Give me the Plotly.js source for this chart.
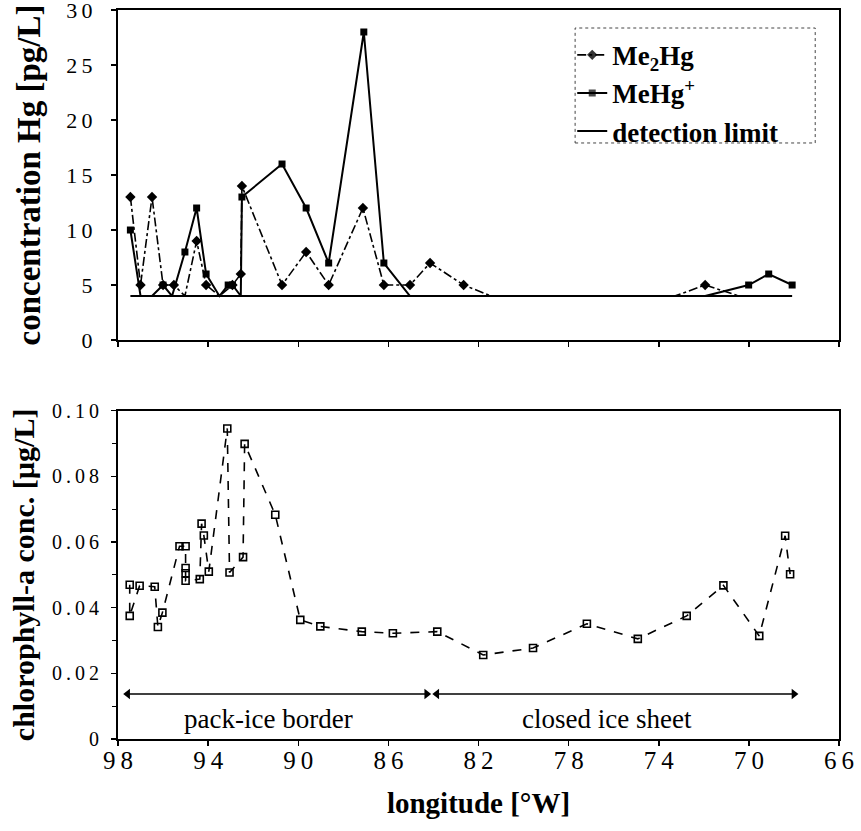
<!DOCTYPE html>
<html>
<head>
<meta charset="utf-8">
<script src="https://cdn.plot.ly/plotly-3.0.1.min.js"></script>
<style>html,body{margin:0;padding:0;background:#fff;}</style>
</head>
<body>
<div id="chart" style="width:861px;height:831px;"></div>
<script>
// ---- data: top panel (Hg species, pg/L) ----
const me2hgLon = [97.45, 97.0, 96.49, 96.0, 95.52, 95.03, 94.51, 94.09, 93.5, 92.92, 92.55, 92.50, 90.72, 89.65, 88.65, 87.13, 86.20, 85.04, 84.15, 82.66, 81.44, 73.29, 71.94, 70.44];
const me2hgVal = [13, 5, 13, 5, 5, 4, 9, 5, 4, 5, 6, 14, 5, 8, 5, 12, 5, 5, 7, 5, 4, 4, 5, 4];

const mehgLon = [97.45, 97.0, 96.49, 96.0, 95.6, 95.03, 94.51, 94.09, 93.5, 93.11, 92.92, 92.55, 92.50, 90.72, 89.65, 88.65, 87.09, 86.20, 85.04, 78.5, 71.94, 70.01, 69.12, 68.08];
const mehgVal = [10, 4, 4, 5, 4, 8, 12, 6, 4, 5, 5, 4, 13, 16, 12, 7, 28, 7, 4, null, 4, 5, 6, 5];

const detLimitLon = [97.45, 68.08];
const detLimitVal = [4, 4];

// ---- data: bottom panel (chlorophyll-a, µg/L) ----
const chlLon = [97.48, 97.48, 97.04, 96.37, 96.23, 96.03, 95.27, 95.0, 95.0, 95.0, 95.0, 94.37, 94.29, 94.19, 93.97, 93.15, 93.05, 92.45, 92.38, 91.02, 89.91, 89.02, 87.18, 85.80, 83.83, 81.79, 79.58, 77.19, 74.93, 72.76, 71.13, 69.54, 68.39, 68.17];
const chlVal = [0.047, 0.0375, 0.0467, 0.0464, 0.0341, 0.0385, 0.0587, 0.0587, 0.0521, 0.0505, 0.0482, 0.0487, 0.0656, 0.062, 0.051, 0.0946, 0.0507, 0.0554, 0.0899, 0.0683, 0.0363, 0.0343, 0.0327, 0.0322, 0.0327, 0.0256, 0.0277, 0.0351, 0.0305, 0.0375, 0.0468, 0.0314, 0.0619, 0.0502];

// ---- tick labels ----
const lonTicks = [98, 94, 90, 86, 82, 78, 74, 70, 66];
const lonTickText = ['9\u20098', '9\u20094', '9\u20090', '8\u20096', '8\u20092', '7\u20098', '7\u20094', '7\u20090', '6\u20096'];
const hgTicks = [0, 5, 10, 15, 20, 25, 30];
const hgTickText = ['0', '5', '1\u20090', '1\u20095', '2\u20090', '2\u20095', '3\u20090'];
const chlTicks = [0, 0.02, 0.04, 0.06, 0.08, 0.10];
const chlTickText = ['0', '0\u2009.\u20090\u20092', '0\u2009.\u20090\u20094', '0\u2009.\u20090\u20096', '0\u2009.\u20090\u20098', '0\u2009.\u20091\u20090'];

// ---- region labels (bottom panel) ----
const regionNames = ['pack-ice border', 'closed ice sheet'];
const regionStart = [97.57, 83.85];
const regionEnd = [84.3, 68.0];
const regionLabelLon = [91.33, 76.29];
const regionArrowY = 0.0137;
const regionLabelY = 0.0061;

const DL = 4; // detection limit value (pg/L)

const serif = 'Liberation Serif';

const hideAtDL = vals => vals.map(v => (v === DL ? 0 : 1));

const traces = [
  {
    x: me2hgLon, y: me2hgVal, xaxis: 'x', yaxis: 'y', type: 'scatter', mode: 'lines+markers',
    name: 'Me<sub>2</sub>Hg',
    line: {color: '#000', width: 1.6, dash: 'dashdot'},
    marker: {symbol: 'diamond', size: 8, color: '#000', opacity: hideAtDL(me2hgVal)}
  },
  {
    x: mehgLon, y: mehgVal, xaxis: 'x', yaxis: 'y', type: 'scatter', mode: 'lines+markers',
    name: 'MeHg<sup>+</sup>', connectgaps: false,
    line: {color: '#000', width: 2},
    marker: {symbol: 'square', size: 7, color: '#000', opacity: hideAtDL(mehgVal)}
  },
  {
    x: detLimitLon, y: detLimitVal, xaxis: 'x', yaxis: 'y', type: 'scatter', mode: 'lines',
    name: 'detection limit',
    line: {color: '#000', width: 2}
  },
  {
    x: chlLon, y: chlVal, xaxis: 'x2', yaxis: 'y2', type: 'scatter', mode: 'lines+markers',
    name: 'chlorophyll-a', showlegend: false,
    line: {color: '#000', width: 1.6, dash: 'dash'},
    marker: {symbol: 'square-open', size: 7, color: '#000', line: {width: 1.6, color: '#000'}}
  }
];

for (let i = 0; i < regionNames.length; i++) {
  traces.push({
    x: [regionStart[i], regionEnd[i]], y: [regionArrowY, regionArrowY],
    xaxis: 'x2', yaxis: 'y2', type: 'scatter', mode: 'lines+markers', showlegend: false,
    line: {color: '#000', width: 1.6},
    marker: {symbol: ['triangle-left', 'triangle-right'], size: 9, color: '#000'},
    hoverinfo: 'skip'
  });
}

const annotations = regionNames.map((t, i) => ({
  xref: 'x2', yref: 'y2', x: regionLabelLon[i], y: regionLabelY,
  text: t, showarrow: false,
  font: {family: serif, size: 27, color: '#000'}
}));

const axisCommon = {
  showline: true, mirror: true, linecolor: '#000', linewidth: 2,
  showgrid: false, zeroline: false, ticks: 'outside', ticklen: 5, tickcolor: '#000', tickwidth: 1.5,
  ticklabeloverflow: 'allow'
};

const layout = {
  width: 861, height: 831,
  margin: {l: 118, r: 22, t: 10, b: 92},
  paper_bgcolor: '#fff', plot_bgcolor: '#fff',
  font: {family: serif, color: '#000'},
  showlegend: true,
  legend: {
    x: 0.630, y: 0.9715, xanchor: 'left', yanchor: 'top',
    bgcolor: 'rgba(255,255,255,0)', borderwidth: 0,
    font: {family: serif, size: 27, color: '#000', weight: 'bold'},
    itemwidth: 30, tracegroupgap: 0
  },
  xaxis: Object.assign({}, axisCommon, {
    domain: [0, 1], anchor: 'y', range: [98, 66], tickvals: lonTicks, showticklabels: false
  }),
  yaxis: Object.assign({}, axisCommon, {
    domain: [0.5473, 1], anchor: 'x', range: [0, 30], tickvals: hgTicks, ticktext: hgTickText,
    tickfont: {family: serif, size: 22, color: '#000'}, ticklabelstandoff: 14,
    title: {text: 'concentration Hg [pg/L]', font: {family: serif, size: 33, color: '#000', weight: 'bold'}, standoff: 16}
  }),
  xaxis2: Object.assign({}, axisCommon, {
    domain: [0, 1], anchor: 'y2', range: [98, 66], tickvals: lonTicks, ticktext: lonTickText,
    tickfont: {family: serif, size: 25, color: '#000'}, ticklabelstandoff: -7,
    title: {text: 'longitude [°W]', font: {family: serif, size: 29, color: '#000', weight: 'bold'}, standoff: 20}
  }),
  yaxis2: Object.assign({}, axisCommon, {
    domain: [0, 0.4503], anchor: 'x2', range: [0, 0.10], tickvals: chlTicks, ticktext: chlTickText,
    tickfont: {family: serif, size: 20, color: '#000'}, ticklabelstandoff: 8,
    minor: {tickvals: [0.01, 0.03, 0.05, 0.07, 0.09], ticks: 'outside', ticklen: 4, tickcolor: '#000', tickwidth: 1.2},
    title: {text: 'chlorophyll-a conc. [µg/L]', font: {family: serif, size: 30, color: '#000', weight: 'bold'}, standoff: 8}
  }),
  shapes: [{
    type: 'rect', xref: 'paper', yref: 'paper', x0: 0.634, x1: 0.967, y0: 0.8176, y1: 0.9753,
    line: {color: '#444', width: 1, dash: 'dot'}, fillcolor: 'rgba(0,0,0,0)', layer: 'above'
  }],
  annotations: annotations
};

Plotly.newPlot('chart', traces, layout, {displayModeBar: false, staticPlot: true});
</script>
</body>
</html>
